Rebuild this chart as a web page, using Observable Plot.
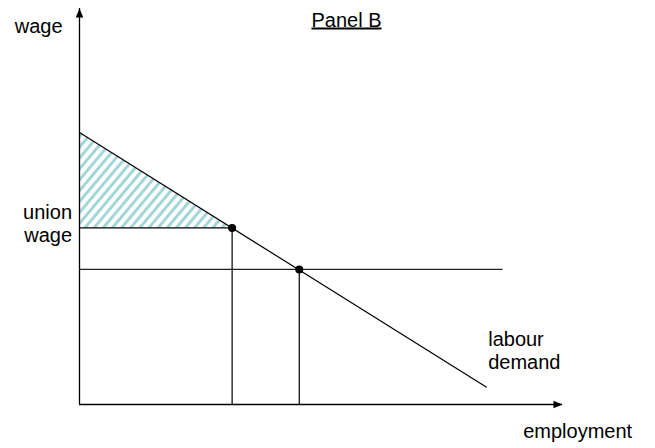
<!DOCTYPE html>
<html>
<head>
<meta charset="utf-8">
<script src="https://cdn.jsdelivr.net/npm/d3@7"></script>
<script src="https://cdn.jsdelivr.net/npm/@observablehq/plot@0.6"></script>
<style>
  html, body { margin: 0; padding: 0; background: #fff; }
  svg { display: block; }
</style>
</head>
<body>
<div id="chart"></div>
<script>
// ---- data ----
const demandEmployment = [0, 84.2];
const demandWage = [68.7, 4.4];
const unionEmployment = 31.6;
const unionWage = 44.6;
const marketEmployment = 45.5;
const marketWage = 34.1;
const marketLineEnd = 87.7;
const axisMax = 100;
const surplusEmployment = [0, 31.6];
const surplusTop = [68.7, 44.6];

const demand = demandEmployment.map((e, i) => ({employment: e, wage: demandWage[i]}));
const surplus = surplusEmployment.map((e, i) => ({employment: e, top: surplusTop[i], bottom: unionWage}));
const points = [
  {employment: unionEmployment, wage: unionWage},
  {employment: marketEmployment, wage: marketWage}
];

const font = "'Liberation Sans', Arial, Helvetica, sans-serif";
const arrowHead = {
  draw(context) {
    context.moveTo(0, 0);
    context.lineTo(-3.8, 9);
    context.lineTo(3.8, 9);
    context.closePath();
  }
};

const chart = Plot.plot({
  width: 655,
  height: 448,
  marginLeft: 79,
  marginRight: 93,
  marginTop: 8,
  marginBottom: 44,
  style: {fontFamily: font, background: "#fff", color: "#000"},
  x: {domain: [0, axisMax], axis: null},
  y: {domain: [0, axisMax], axis: null},
  marks: [
    // hatched surplus
    Plot.areaY(surplus, {x: "employment", y1: "bottom", y2: "top", fill: "url(#hatch)"}),
    // axes
    Plot.ruleX([0], {y1: 0, y2: axisMax, stroke: "#000", strokeWidth: 1.3}),
    Plot.ruleY([0], {x1: 0, x2: axisMax, stroke: "#000", strokeWidth: 1.3}),
    Plot.dot([{employment: 0, wage: axisMax}], {x: "employment", y: "wage", symbol: arrowHead, fill: "#000", stroke: "none"}),
    Plot.dot([{employment: axisMax, wage: 0}], {x: "employment", y: "wage", symbol: arrowHead, rotate: 90, fill: "#000", stroke: "none"}),
    // union wage horizontal + vertical
    Plot.ruleY([unionWage], {x1: 0, x2: unionEmployment, stroke: "#000", strokeWidth: 1.2}),
    Plot.ruleX([unionEmployment], {y1: 0, y2: unionWage, stroke: "#000", strokeWidth: 1.2}),
    // market wage horizontal + vertical
    Plot.ruleY([marketWage], {x1: 0, x2: marketLineEnd, stroke: "#222", strokeWidth: 1.2}),
    Plot.ruleX([marketEmployment], {y1: 0, y2: marketWage, stroke: "#000", strokeWidth: 1.2}),
    // labour demand
    Plot.line(demand, {x: "employment", y: "wage", stroke: "#000", strokeWidth: 1.2}),
    Plot.dot(points, {x: "employment", y: "wage", r: 4, fill: "#000", stroke: "none"}),
    // labels
    Plot.text(["wage"], {x: 0, y: axisMax, text: d => d, textAnchor: "end", lineAnchor: "bottom", dx: -17, dy: 24, fontSize: 20, fill: "#000"}),
    Plot.text(["union\nwage"], {x: 0, y: unionWage, text: d => d, textAnchor: "end", lineAnchor: "bottom", lineHeight: 1.15, dx: -7.5, dy: 14, fontSize: 20, fill: "#000"}),
    Plot.text(["labour\ndemand"], {x: demandEmployment[1], y: demandWage[1], text: d => d, textAnchor: "start", lineAnchor: "bottom", lineHeight: 1.15, dx: 2, dy: -18.5, fontSize: 20, fill: "#000"}),
    Plot.text(["employment"], {x: axisMax, y: 0, text: d => d, textAnchor: "start", lineAnchor: "bottom", dx: -39.3, dy: 33, fontSize: 20, fill: "#000"}),
    Plot.text(["Panel B"], {frameAnchor: "top", text: d => d, lineAnchor: "bottom", dx: 25.5, dy: 18, fontSize: 20, fill: "#000"})
  ]
});

// hatch pattern definition
const ns = "http://www.w3.org/2000/svg";
const defs = document.createElementNS(ns, "defs");
const pattern = document.createElementNS(ns, "pattern");
pattern.setAttribute("id", "hatch");
pattern.setAttribute("patternUnits", "userSpaceOnUse");
pattern.setAttribute("width", "7");
pattern.setAttribute("height", "7");
pattern.setAttribute("patternTransform", "rotate(40)");
const bg = document.createElementNS(ns, "rect");
bg.setAttribute("width", "7"); bg.setAttribute("height", "7"); bg.setAttribute("fill", "#fff");
const stripe = document.createElementNS(ns, "rect");
stripe.setAttribute("width", "3"); stripe.setAttribute("height", "7"); stripe.setAttribute("fill", "#a3d6d9");
pattern.appendChild(bg);
pattern.appendChild(stripe);
defs.appendChild(pattern);
chart.insertBefore(defs, chart.firstChild);

// underline "Panel B"
chart.querySelectorAll("text").forEach(t => {
  if (t.textContent === "Panel B") t.style.textDecoration = "underline";
});

document.getElementById("chart").appendChild(chart);
</script>
</body>
</html>
